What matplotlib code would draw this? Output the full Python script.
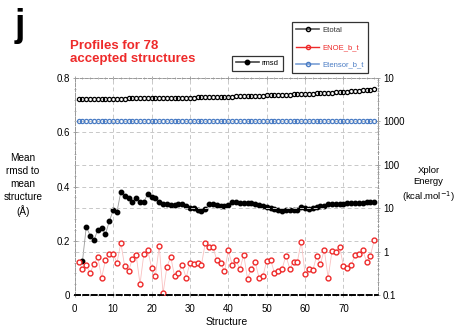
import numpy as np
import matplotlib
matplotlib.use('Agg')
import matplotlib.pyplot as plt
from matplotlib.ticker import MultipleLocator, FixedLocator, NullFormatter

plt.rcParams['font.family'] = ['Liberation Sans', 'DejaVu Sans']

# structure numbers
structures = np.arange(1, 79)
rmsd_structures = np.arange(2, 79)

# mean rmsd to mean structure (A), structures 2..78
rmsd = [0.125, 0.2525, 0.219, 0.2025, 0.241, 0.2475, 0.225, 0.2725, 0.3125,
        0.3075, 0.381, 0.366, 0.3575, 0.3425, 0.356, 0.344, 0.344, 0.3725,
        0.360, 0.356, 0.344, 0.336, 0.334, 0.3325, 0.3325, 0.334, 0.335,
        0.329, 0.3225, 0.321, 0.314, 0.309, 0.316, 0.3375, 0.335, 0.331,
        0.330, 0.329, 0.331, 0.3425, 0.3425, 0.341, 0.341, 0.340, 0.340,
        0.336, 0.333, 0.329, 0.325, 0.321, 0.317, 0.313, 0.309, 0.313,
        0.314, 0.313, 0.314, 0.324, 0.322, 0.319, 0.322, 0.325, 0.327,
        0.328, 0.337, 0.337, 0.336, 0.336, 0.337, 0.338, 0.338, 0.340,
        0.341, 0.341, 0.342, 0.342, 0.343]

# Xplor energies (kcal/mol)
etotal = [3300, 3300, 3310, 3310, 3320, 3320, 3330, 3330, 3340, 3340,
          3350, 3360, 3360, 3370, 3380, 3380, 3390, 3400, 3410, 3420,
          3430, 3440, 3450, 3460, 3470, 3480, 3500, 3510, 3520, 3540,
          3550, 3570, 3580, 3600, 3620, 3640, 3660, 3680, 3700, 3720,
          3740, 3760, 3790, 3810, 3830, 3860, 3880, 3910, 3940, 3960,
          3990, 4020, 4050, 4080, 4110, 4140, 4180, 4210, 4250, 4290,
          4330, 4370, 4420, 4470, 4520, 4570, 4620, 4680, 4740, 4800,
          4870, 4940, 5010, 5090, 5170, 5260, 5350, 5450]

enoe = [0.59, 0.40, 0.49, 0.32, 0.53, 0.74, 0.25, 0.65, 0.88, 0.88,
        0.56, 1.60, 0.46, 0.35, 0.69, 0.82, 0.18, 0.90, 1.09, 0.43,
        0.28, 1.33, 0.11, 0.45, 0.76, 0.27, 0.33, 0.49, 0.25, 0.55,
        0.51, 0.55, 0.50, 1.60, 1.31, 1.26, 0.64, 0.56, 0.35, 1.07,
        0.50, 0.65, 0.39, 0.85, 0.24, 0.41, 0.58, 0.25, 0.27, 0.62,
        0.66, 0.33, 0.36, 0.40, 0.81, 0.41, 0.59, 0.59, 1.71, 0.30,
        0.41, 0.37, 0.79, 0.52, 1.11, 0.25, 1.02, 0.98, 1.29, 0.46,
        0.43, 0.49, 0.82, 0.88, 1.11, 0.58, 0.81, 1.81]

etensor = [1002, 1001, 1002, 1000, 1001, 1002, 1001, 1000, 1001, 1002,
           1001, 1002, 1001, 1000, 1001, 1002, 1001, 1001, 1002, 1000,
           1001, 1002, 1001, 1000, 1001, 1002, 1001, 1001, 1002, 1001,
           1000, 1001, 1002, 1001, 1001, 1002, 1000, 1001, 1002, 1001,
           1001, 1002, 1001, 1000, 1001, 1002, 1001, 1001, 1002, 1000,
           1001, 1002, 1001, 1001, 1000, 1002, 1001, 1001, 1002, 1000,
           1001, 1002, 1001, 1001, 1000, 1002, 1001, 1001, 1002, 1001,
           1000, 1001, 1002, 1001, 1001, 1002, 1001, 1001]

right_ticks = [0.1, 1, 10, 100, 1000, 10000]
right_labels = ['0.1', '1', '10', '100', '1000', '10']

fig = plt.figure(figsize=(4.56, 3.29), dpi=100)
ax = fig.add_axes([0.164, 0.103, 0.665, 0.660])
ax2 = ax.twinx()

grid_kw = dict(color='#c8c8c8', linestyle=(0, (4, 3)), linewidth=0.7)

# left axis: rmsd
ax.plot(rmsd_structures, rmsd, '-', color='#9a9a9a', lw=0.6, zorder=3)
ax.plot(rmsd_structures, rmsd, 'o', color='black', ms=3.2, zorder=4)
ax.set_xlim(0, 79)
ax.set_ylim(0, 0.8)
ax.yaxis.set_minor_locator(MultipleLocator(0.04))
ax.xaxis.set_major_locator(MultipleLocator(10))
ax.xaxis.set_minor_locator(MultipleLocator(2))
ax.set_yticks([0, 0.2, 0.4, 0.6, 0.8])
ax.set_yticklabels(['0', '0.2', '0.4', '0.6', '0.8'])
ax.grid(True, which='major', **grid_kw)
ax.set_axisbelow(True)
ax.tick_params(axis='both', which='major', labelsize=7, length=3,
               width=0.6, color='#999999', direction='inout', pad=2)
ax.tick_params(axis='both', which='minor', length=2, width=0.5,
               color='#999999', direction='inout')
ax.tick_params(axis='x', pad=5, top=True, which='both')
ax.set_xlabel('Structure', fontsize=7.5, labelpad=2)

# right axis: energies
ax2.set_yscale('log')
ax2.plot(structures, etotal, 'o', mfc='none', mec='black', ms=3.0, mew=0.9)
ax2.plot(structures, etensor, 'o', mfc='none', mec='#4a7cc4', ms=3.0, mew=0.9)
ax2.plot(structures, enoe, '-', color='#f9c0c0', lw=0.6)
ax2.plot(structures, enoe, 'o', mfc='white', mec='#ee2a2a', ms=3.5, mew=1.0)
ax2.set_ylim(0.1, 10000)
ax2.yaxis.set_major_locator(FixedLocator(right_ticks))
ax2.set_yticklabels(right_labels)
ax2.yaxis.set_minor_formatter(NullFormatter())
ax2.grid(True, which='major', axis='y', **grid_kw)
ax2.tick_params(axis='y', which='major', labelsize=7, length=3, width=0.6,
                color='#999999', direction='inout', pad=2)
ax2.tick_params(axis='y', which='minor', length=2, width=0.5,
                color='#999999', direction='inout')

for a in (ax, ax2):
    for side in ('left', 'right', 'top'):
        a.spines[side].set_color('#9a9a9a')
        a.spines[side].set_linestyle((0, (3, 2)))
        a.spines[side].set_linewidth(0.7)
    a.spines['bottom'].set_color('black')
    a.spines['bottom'].set_linestyle((0, (3, 2)))
    a.spines['bottom'].set_linewidth(1.2)

# legends
leg1 = ax.legend([plt.Line2D([], [], color='#444444', lw=1.2, marker='o',
                             ms=3.2, mfc='black', mec='black')],
                 ['rmsd'], loc='upper left',
                 bbox_to_anchor=(0.509, 0.830), bbox_transform=fig.transFigure,
                 fontsize=5.5, frameon=True, fancybox=False, handlelength=3,
                 borderpad=0.5, handletextpad=0.4, borderaxespad=0)
leg1.get_frame().set_edgecolor('black')
leg1.get_frame().set_linewidth(0.9)

h_tot = plt.Line2D([], [], color='#555555', lw=1.2, marker='o', ms=3,
                   mfc='none', mec='black')
h_noe = plt.Line2D([], [], color='#ee2a2a', lw=1.0, marker='o', ms=3,
                   mfc='none', mec='#ee2a2a')
h_ten = plt.Line2D([], [], color='#7a9fd6', lw=1.2, marker='o', ms=3,
                   mfc='none', mec='#4a7cc4')
leg2 = ax2.legend([h_tot, h_noe, h_ten], ['Etotal', 'ENOE_b_t', 'Etensor_b_t'],
                  loc='upper left', bbox_to_anchor=(0.640, 0.933),
                  bbox_transform=fig.transFigure, fontsize=5.5, frameon=True,
                  fancybox=False, handlelength=3, labelspacing=1.3,
                  borderpad=0.6, handletextpad=0.4, borderaxespad=0)
leg2.get_frame().set_edgecolor('black')
leg2.get_frame().set_linewidth(0.9)
for txt, col in zip(leg2.get_texts(), ['#333333', '#ee2a2a', '#4a7cc4']):
    txt.set_color(col)

# axis titles and labels
fig.text(0.050, 0.437, 'Mean\nrmsd to\nmean\nstructure\n(\u00c5)', ha='center',
         va='center', fontsize=7.2, linespacing=1.35)
fig.text(0.940, 0.438, 'Xplor\nEnergy\n(kcal.mol$^{-1}$)', ha='center',
         va='center', fontsize=6.8, linespacing=1.3)
fig.text(0.153, 0.877, 'Profiles for 78\naccepted structures', ha='left',
         va='top', fontsize=9.5, fontweight='bold', color='#ee2a2a',
         linespacing=1.1)
fig.text(0.032, 0.975, 'j', ha='left', va='top', fontsize=27,
         fontweight='bold')

fig.savefig('out.png', dpi=100)
